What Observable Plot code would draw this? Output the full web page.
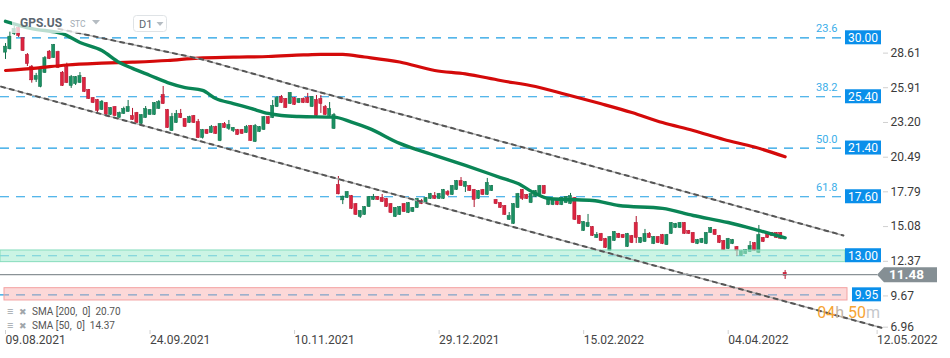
<!DOCTYPE html>
<html><head><meta charset="utf-8">
<script src="https://cdn.jsdelivr.net/npm/d3@7"></script>
<script src="https://cdn.jsdelivr.net/npm/@observablehq/plot@0.6"></script>
<style>
body{margin:0;background:#fff;}
#chart{width:950px;height:358px;overflow:hidden;}
</style></head><body><div id="chart"></div>
<script>
// ---- Daily candles (trading-day index 0..178) ----
const open  = [28.88,29.14,30.33,30.73,29.94,28.62,27.71,26.75,26.20,27.29,28.88,28.46,28.85,27.24,27.68,26.28,26.43,26.51,26.83,25.89,25.26,25.11,24.41,24.87,24.02,24.56,23.78,24.10,24.25,23.86,24.10,23.32,23.78,24.02,24.02,24.49,25.50,24.33,22.77,23.39,24.02,23.63,23.39,23.86,23.39,22.22,22.77,22.61,23.00,21.99,23.24,22.93,22.77,22.77,22.77,22.61,23.08,21.91,22.69,22.85,23.78,23.78,24.64,25.34,25.19,24.87,25.26,24.95,25.19,25.26,24.64,25.11,25.19,24.56,23.94,22.93,18.48,17.36,17.54,17.62,16.99,16.06,16.22,16.84,17.39,17.54,17.47,17.39,16.99,16.06,16.22,16.99,16.37,16.45,16.76,17.23,17.15,17.47,17.62,17.47,17.47,17.93,17.78,18.17,18.79,18.40,18.40,18.09,17.47,18.09,17.78,18.09,17.31,17.07,16.84,15.83,15.52,16.76,18.09,17.70,17.15,17.62,17.78,18.40,16.99,16.99,17.31,16.99,17.15,17.07,17.47,16.06,14.97,15.28,15.20,14.42,14.66,14.27,13.41,14.19,14.66,14.58,13.72,14.50,15.52,14.03,14.11,14.66,13.95,14.42,14.58,13.87,14.74,15.20,15.20,15.52,14.89,14.74,13.95,14.03,13.95,14.81,14.97,14.50,14.11,13.56,13.95,13.64,13.02,13.17,13.33,13.95,13.25,14.35,14.74,14.74,14.74,14.74,11.62];
const high  = [29.55,30.44,30.88,30.88,29.98,28.77,27.84,27.22,27.60,28.54,29.01,29.48,28.95,27.37,28.02,27.06,26.98,27.29,26.90,25.97,25.34,25.19,25.11,24.95,24.56,24.64,24.20,24.59,25.11,24.49,24.18,24.00,24.64,24.40,24.95,25.11,26.20,24.41,24.10,24.33,24.41,23.70,23.88,23.94,23.63,22.85,22.85,23.16,23.10,23.30,23.39,23.55,23.00,22.85,22.85,23.16,23.16,23.24,23.08,23.86,23.86,25.11,25.42,25.50,25.26,25.73,25.34,25.26,25.30,25.66,25.42,25.50,25.50,24.72,24.95,24.10,19.18,17.65,18.00,17.70,17.07,16.53,16.84,17.62,17.78,17.62,17.78,17.47,17.07,16.76,16.84,17.07,17.15,16.76,17.47,17.39,17.54,17.86,17.93,17.86,18.17,18.09,18.48,18.87,19.10,18.79,18.48,18.17,18.09,18.17,19.03,18.48,17.39,17.15,16.91,16.37,17.07,17.86,18.17,17.78,17.86,18.09,18.48,18.48,17.54,17.39,17.39,17.54,17.62,17.86,17.54,16.14,15.67,16.22,15.28,14.81,14.74,14.35,14.50,14.89,14.74,14.66,14.74,14.58,16.06,14.42,15.05,14.81,14.50,14.50,14.66,14.66,15.59,15.52,15.59,15.59,14.97,14.81,14.27,14.35,14.81,15.20,15.05,14.58,14.19,14.35,14.27,13.72,13.41,13.48,14.11,14.03,15.36,14.42,14.81,14.81,14.81,14.81,11.85];
const low   = [28.31,29.06,30.18,30.02,28.93,27.76,26.46,26.51,26.10,27.22,28.30,28.40,27.60,26.20,26.43,26.05,26.28,26.43,25.73,25.19,24.87,24.10,24.33,23.94,23.94,23.86,23.76,24.02,24.20,23.55,23.31,23.24,23.72,23.96,23.94,24.41,24.80,22.93,22.69,23.32,23.70,23.00,23.32,23.32,22.15,22.10,22.46,22.54,22.46,21.90,22.93,22.77,22.61,22.38,22.46,22.54,21.91,21.83,22.61,22.77,23.24,23.70,24.56,24.87,24.49,24.80,24.72,24.87,24.87,24.87,24.56,23.86,24.10,23.94,23.86,22.85,17.75,16.99,17.46,16.60,16.14,15.91,16.14,16.76,17.31,17.31,17.15,16.76,16.29,15.98,16.14,16.37,16.29,16.37,16.69,16.99,17.07,17.39,17.39,17.39,17.39,17.62,17.70,18.09,18.40,17.93,18.01,16.76,17.39,17.70,17.70,18.01,16.99,16.69,16.14,15.75,15.44,16.69,17.31,17.39,17.07,17.54,17.70,17.78,16.91,16.91,16.91,16.91,17.07,16.99,15.75,15.44,14.89,15.20,14.50,14.35,14.11,13.56,13.33,14.11,14.35,14.35,13.64,13.95,13.95,13.95,14.03,14.35,13.87,13.95,13.87,13.80,14.66,15.12,15.12,14.66,14.66,13.95,13.87,13.95,13.87,14.74,14.58,13.95,13.41,13.48,13.87,12.94,12.94,13.10,13.25,13.33,13.17,14.03,14.35,14.50,14.35,14.27,11.15];
const close = [29.27,30.05,30.65,30.18,29.01,27.99,26.72,26.98,27.53,28.38,28.38,29.40,27.68,26.28,26.51,26.90,26.90,26.98,25.81,25.26,24.95,24.33,24.98,24.02,24.49,23.94,24.10,24.41,24.56,23.63,23.39,23.94,24.41,24.33,24.87,24.95,24.87,23.00,23.78,24.02,23.78,23.08,23.78,23.39,22.22,22.77,22.54,23.00,22.54,23.24,23.00,23.16,22.93,22.46,22.54,23.00,21.99,23.08,23.00,23.78,23.32,24.64,25.26,24.95,24.56,25.66,24.80,25.19,24.95,24.95,25.34,23.94,24.87,24.02,24.41,23.94,17.83,17.57,17.93,16.69,16.22,16.45,16.76,17.54,17.54,17.39,17.23,16.84,16.37,16.69,16.76,16.45,17.07,16.69,17.39,17.07,17.47,17.78,17.47,17.78,18.09,17.78,18.40,18.79,18.48,18.71,18.09,17.39,18.01,17.78,18.64,18.40,17.07,16.76,16.22,16.06,16.99,17.78,17.47,17.47,17.78,18.01,18.40,17.86,17.47,17.31,16.99,17.47,17.54,17.62,15.83,15.52,15.59,15.52,14.58,14.58,14.19,13.64,14.42,14.81,14.42,14.42,14.66,14.03,14.42,14.35,14.66,14.42,14.42,14.03,13.95,14.58,15.52,15.44,15.52,14.74,14.74,14.03,14.19,14.27,14.74,15.12,14.66,14.03,13.48,14.27,14.19,13.41,13.33,13.41,13.72,13.41,14.58,14.11,14.42,14.58,14.42,14.35,11.48];

const sma200Idx = [0,7,14,22,29,37,44,52,60,68,72,77,82,90,98,105,113,121,128,136,143,150,157,164,171,178];
const sma200Val = [27.45,27.64,27.88,28.02,28.10,28.23,28.42,28.49,28.54,28.66,28.70,28.70,28.50,28.11,27.45,27.19,26.67,26.20,25.58,24.85,24.17,23.39,22.77,22.07,21.48,20.72];
const sma50Idx = [0,6,13,17,22,26,29,33,37,41,45,48,52,56,60,63,67,75,79,83,90,98,105,113,117,121,124,128,134,140,150,157,165,172,178];
const sma50Val = [31.29,30.72,30.33,29.63,29.01,28.07,27.61,27.06,26.51,26.12,25.89,25.26,24.87,24.49,24.10,23.94,23.86,23.81,23.42,22.93,21.76,20.82,20.04,19.10,18.63,17.85,17.46,17.39,17.31,16.92,16.69,16.14,15.59,14.97,14.40];

// ---- Channel lines ----
const upperIdx = [12.1,44.5,67.4,140.4,191.3];
const upperVal = [30.70,28.35,26.16,19.39,14.58];
const lowerIdx = [-1,200];
const lowerVal = [26.19,7.38];

// ---- Levels ----
const fibLevels = [30.00,25.40,21.40,17.60];
const fibRatios = ["23.6","38.2","50.0","61.8"];
const supportLevels = [13.00,9.95];
const greenZone = [12.50,13.41];
const redZone = [9.51,10.47];
const lastPrice = 11.48;

// ---- Axes ----
const yTicks = [6.96,9.67,12.37,15.08,17.79,20.49,23.20,25.91,28.61];
const xTickIdx = [0,33,66,99,132,165,199];
const xTickLabels = ["09.08.2021","24.09.2021","10.11.2021","29.12.2021","15.02.2022","04.04.2022","12.05.2022"];
const smaLegend = ["SMA [200,  0]  20.70","SMA [50,  0]  14.37"];

const candles = open.map((o,i)=>({i,o,h:high[i],l:low[i],c:close[i],up:close[i]>=o}));
const sma200 = sma200Idx.map((i,k)=>({i,v:sma200Val[k]}));
const sma50 = sma50Idx.map((i,k)=>({i,v:sma50Val[k]}));
const upper = upperIdx.map((i,k)=>({i,v:upperVal[k]}));
const lower = lowerIdx.map((i,k)=>({i,v:lowerVal[k]}));

const GREEN="#1b9063", GREEN_D="#0f6e48", RED="#dc2440", RED_D="#b0132c";
const FIB="#1e9fe3";
const step = 4.38;
const yMinTick = d3.min(yTicks);

const chart = Plot.plot({
  width: 950, height: 358,
  marginLeft: 0, marginRight: 105, marginTop: 0, marginBottom: 28,
  x: {domain: [-5/step, 840/step], axis: null},
  y: {domain: [7.168, 32.909], axis: null},
  style: {fontFamily: "Roboto, 'Noto Sans', sans-serif", fontSize: "12px", background: "#fff", overflow: "visible"},
  marks: [
    Plot.ruleY(fibLevels, {y: d=>d, stroke: FIB, strokeWidth: 1.2, strokeDasharray: "9,7"}),
    Plot.ruleY(supportLevels, {y: d=>d, stroke: FIB, strokeWidth: 1.2, strokeDasharray: "9,7"}),
    Plot.text(fibLevels, {y: d=>d, frameAnchor: "right", dx: -8, dy: -9, text: (d,i)=>fibRatios[i], textAnchor: "end", fill: "#3aaee9", fontSize: 11}),
    Plot.ruleX(candles, {x: "i", y1: "l", y2: "h", stroke: d=>d.up?GREEN_D:RED_D, strokeWidth: 1}),
    Plot.rect(candles, {x1: d=>d.i-0.36, x2: d=>d.i+0.36, y1: d=>Math.min(d.o,d.c), y2: d=>Math.max(d.o,d.c),
      fill: d=>d.up?GREEN:RED, stroke: d=>d.up?GREEN_D:RED_D, strokeWidth: 0.5, insetTop: -0.5, insetBottom: -0.5}),
    Plot.line(sma200, {x: "i", y: "v", stroke: "#d40a0a", strokeWidth: 3.2, curve: "monotone-x"}),
    Plot.line(sma50, {x: "i", y: "v", stroke: "#0a8556", strokeWidth: 3.4, curve: "monotone-x"}),
    Plot.rect([greenZone], {x1: -5/step, x2: 840/step, y1: d=>d[0], y2: d=>d[1], fill: "#a8ecd2", fillOpacity: 0.6, stroke: "#86dcbc", strokeWidth: 1}),
    Plot.rect([redZone], {x1: 4/step-5/step, x2: 842/step, y1: d=>d[0], y2: d=>d[1], fill: "#f9a9a9", fillOpacity: 0.45, stroke: "#f3a2a2", strokeWidth: 1}),
    Plot.line(upper, {x: "i", y: "v", stroke: "#b4b4b4", strokeWidth: 1.4}),
    Plot.line(upper, {x: "i", y: "v", stroke: "#555", strokeWidth: 2, strokeDasharray: "4,5"}),
    Plot.line(lower, {x: "i", y: "v", stroke: "#b4b4b4", strokeWidth: 1.4}),
    Plot.line(lower, {x: "i", y: "v", stroke: "#555", strokeWidth: 2, strokeDasharray: "4,5"}),
    Plot.axisY(yTicks.filter(d=>d!==yMinTick), {anchor: "right", dx: 37, dy: -2.5, tickSize: 5, tickPadding: 3, stroke: "#d0d0d0", fill: "#3a3a3a", fontSize: 12, tickFormat: d=>d.toFixed(2), label: null}),
    Plot.axisY([yMinTick], {anchor: "right", dx: 37, dy: -6, tickSize: 5, tickPadding: 3, stroke: "#d0d0d0", fill: "#3a3a3a", fontSize: 12, tickFormat: d=>d.toFixed(2), label: null}),
    Plot.axisX(xTickIdx, {anchor: "bottom", tickSize: 4, tickPadding: 1, stroke: "#d0d0d0", fill: "#444", fontSize: 12, textAnchor: "start", tickFormat: d=>xTickLabels[xTickIdx.indexOf(d)], label: null})
  ]
});
document.getElementById("chart").appendChild(chart);

// ---- Overlays (labels on the price axis, header, legend, countdown) ----
const svg = d3.select(chart);
const ys = chart.scale("y");
const font = "Roboto, 'Noto Sans', sans-serif";
const boxRight = 881;
const g = svg.append("g").attr("font-family", font).attr("text-anchor", "start");

// price boxes
[...fibLevels, ...supportLevels].forEach(v => {
  const y = ys.apply(v);
  const t = v.toFixed(2);
  const w = 7*t.length + 1;
  g.append("rect").attr("x", boxRight-w).attr("y", y-7).attr("width", w).attr("height", 14).attr("fill", "#0a8fea");
  g.append("text").attr("x", boxRight-w/2).attr("y", y+4.3).attr("text-anchor","middle").attr("fill","#fff").attr("font-size",12).text(t);
});

// last price line + arrow label
const yl = ys.apply(lastPrice);
g.append("line").attr("x1",0).attr("x2",877).attr("y1",yl).attr("y2",yl).attr("stroke","#8a9296").attr("stroke-width",1.2);
g.append("path").attr("d",`M877,${yl} L884,${yl-7.5} L937,${yl-7.5} L937,${yl+7.5} L884,${yl+7.5} Z`).attr("fill","#858f94");
g.append("text").attr("x",889).attr("y",yl+4.6).attr("fill","#fff").attr("font-size",13.5).attr("font-weight","bold").text(lastPrice.toFixed(2));

// countdown
const cd = g.append("text").attr("x",880).attr("y",318).attr("text-anchor","end").attr("font-size",16);
cd.append("tspan").attr("fill","#f6a433").text("04");
cd.append("tspan").attr("fill","#c2b6a8").text("h ");
cd.append("tspan").attr("fill","#f6a433").text("50");
cd.append("tspan").attr("fill","#c4c8cc").text("m");

// header
g.append("rect").attr("x",12).attr("y",8).attr("width",90).attr("height",25).attr("fill","#fff").attr("fill-opacity",0.72);
g.append("text").attr("x",20).attr("y",27).attr("fill","#5b6670").attr("font-size",12).attr("font-weight","bold").text("GPS.US");
g.append("text").attr("x",70).attr("y",27).attr("fill","#a3acb4").attr("font-size",8.5).text("STC");
g.append("path").attr("d","M92,20 L100,20 L96,24.5 Z").attr("fill","#b5bcc2");
g.append("rect").attr("x",133.5).attr("y",15.5).attr("width",33).attr("height",16).attr("rx",3).attr("fill","#fff").attr("stroke","#dfe3e6");
g.append("text").attr("x",139).attr("y",28).attr("fill","#5b6670").attr("font-size",11).text("D1");
g.append("path").attr("d","M156.5,22 L163.5,22 L160,26 Z").attr("fill","#b5bcc2");

// SMA legend
smaLegend.forEach((t,k) => {
  const y = 315 + k*14;
  g.append("text").attr("x",7).attr("y",y).attr("fill","#a0a6ab").attr("font-size",11).text("\u2261");
  g.append("text").attr("x",19).attr("y",y).attr("fill","#a0a6ab").attr("font-size",9).text("\u2716");
  g.append("text").attr("x",32).attr("y",y).attr("fill","#555").attr("font-size",10).style("white-space","pre").text(t);
});
</script>
</body></html>
